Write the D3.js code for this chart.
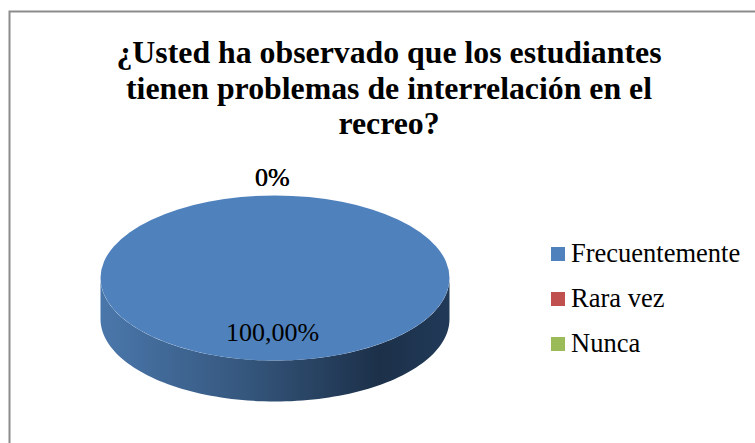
<!DOCTYPE html>
<html>
<head>
<meta charset="utf-8">
<script src="https://cdn.jsdelivr.net/npm/d3@7"></script>
<style>
  html, body { margin: 0; padding: 0; background: #fff; }
  svg { display: block; }
  text { font-family: "Liberation Serif", serif; fill: #000; }
</style>
</head>
<body>
<div id="chart"></div>
<script>
const categories = ["Frecuentemente", "Rara vez", "Nunca"];
const values = [100, 0, 0];
const valueLabels = ["100,00%", "0%", "0%"];
const colors = ["#4f81bd", "#c0504d", "#9bbb59"];
const titleLines = [
  "¿Usted ha observado que los estudiantes",
  "tienen problemas de interrelación en el",
  "recreo?"
];

const width = 755;
const height = 443;

const cx = 275, cy = 278;
const rx = 174.5, ry = 82.5;
const depth = 41;

const svg = d3.select("#chart").append("svg")
  .attr("width", width)
  .attr("height", height);

// only the top and left edges of the chart frame are in the picture
svg.append("path")
  .attr("d", d3.line()([[9.5, height], [9.5, 11.5], [width, 11.5]]))
  .attr("fill", "none")
  .attr("stroke", "#8c8c8c")
  .attr("stroke-width", 2);

svg.append("text")
  .attr("text-anchor", "middle")
  .attr("font-weight", "bold")
  .attr("font-size", 31.8)
  .selectAll("tspan")
  .data(titleLines)
  .enter().append("tspan")
  .attr("x", 389)
  .attr("y", (d, i) => 63 + i * 35.5)
  .text(d => d);

// side of the pie
const defs = svg.append("defs");
const grad = defs.append("linearGradient")
  .attr("id", "side")
  .attr("gradientUnits", "userSpaceOnUse")
  .attr("x1", cx - rx).attr("x2", cx + rx)
  .attr("y1", 0).attr("y2", 0);
grad.selectAll("stop")
  .data([[0, "#4a77ab"], [0.4, "#36587f"], [0.8, "#1c3049"], [1, "#213a58"]])
  .enter().append("stop")
  .attr("offset", d => d[0])
  .attr("stop-color", d => d[1]);

const pie = d3.pie().sort(null).value(d => d).startAngle(Math.PI / 2).endAngle(Math.PI * 2.5);
const slices = pie(values);

const angle = d3.scaleLinear().domain([0, 1]).range([Math.PI / 2, Math.PI * 1.5]);
const rim = d3.range(0, 1.001, 0.01).map(t => {
  const a = angle(t);
  return [cx + rx * Math.sin(a), cy - ry * Math.cos(a)];
});
const sidePts = rim.concat(rim.slice().reverse().map(p => [p[0], p[1] + depth]));
svg.append("path")
  .attr("d", d3.line()(sidePts) + "Z")
  .attr("fill", "url(#side)");

// top of the pie, d3.arc is round so squash it with a scale
const arc = d3.arc().innerRadius(0).outerRadius(rx);
svg.append("g")
  .attr("transform", `translate(${cx},${cy}) scale(1,${ry / rx})`)
  .selectAll("path")
  .data(slices)
  .enter().append("path")
  .attr("d", arc)
  .attr("fill", (d, i) => colors[i]);

// the two 0% labels nearly sit on each other
const labelPos = [[272.7, 341], [272.2, 185.5], [272.5, 185.5]];
svg.append("g")
  .attr("text-anchor", "middle")
  .attr("font-size", 26)
  .selectAll("text")
  .data(valueLabels)
  .enter().append("text")
  .attr("x", (d, i) => labelPos[i][0])
  .attr("y", (d, i) => labelPos[i][1])
  .text(d => d);

const legendY = d3.scalePoint().domain(categories).range([254, 344]);
const legend = svg.append("g")
  .selectAll("g")
  .data(categories)
  .enter().append("g")
  .attr("transform", d => `translate(551,${legendY(d)})`);
legend.append("rect")
  .attr("y", -7)
  .attr("width", 14)
  .attr("height", 14)
  .attr("fill", (d, i) => colors[i]);
legend.append("text")
  .attr("x", 20)
  .attr("y", 8)
  .attr("font-size", 26.5)
  .text(d => d);
</script>
</body>
</html>
